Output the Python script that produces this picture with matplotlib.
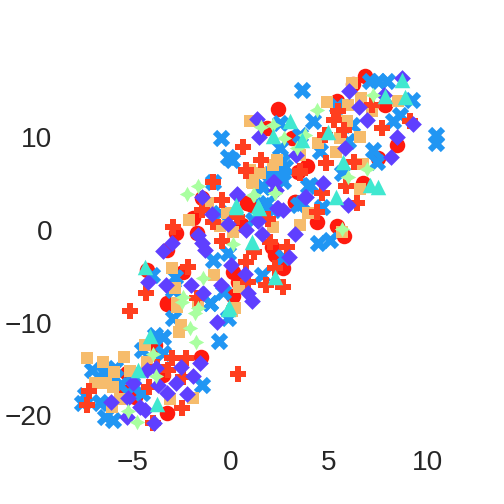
import matplotlib
matplotlib.use("Agg")
import matplotlib.pyplot as plt

plt.rcParams["font.family"] = ["Liberation Sans", "DejaVu Sans"]

# points, one pair of lists per marker group
circle_x = [-3.28,-1.55,-3.25,-5.32,-3.87,-5.4,-3.45,-4.9,-2.82,-1.75,-3.28,-2.46,-4.3,0.8,3.27,0.55,-1.92,0.09,0.09,2.67,2.25,-3.28,0.38,2.08,-1.5,2.42,3.86,3.44,6.84,6.21,5.42,7.86,8.45,7.52,6.75,3.27,0.8,1.06,3.1,1.82,4.4,5.39,5.76]
circle_y = [-7.98,-13.74,-19.79,-15.47,-12.41,-17.45,-15.65,-18.0,-0.3,-0.37,-2.17,-4.51,-4.33,2.87,3.05,0.53,1.25,-4.51,-7.14,-4.15,-2.71,-7.93,-5.59,-1.81,3.41,13.01,6.89,6.28,16.54,15.75,13.84,13.48,9.16,7.72,5.02,3.04,2.86,2.68,9.88,10.96,0.89,0.42,-0.66]

cross_x = [-7.1,-6.51,-5.92,-7.62,-6.68,-6.43,-6.0,-4.55,-3.45,-2.94,-1.07,-0.59,-0.14,-1.46,-3.45,-4.55,-5.66,-3.87,-0.93,-0.13,1.57,2.67,2.5,3.61,1.65,1.57,2.16,-2.85,-4.05,-0.56,1.14,3.95,-1.07,-0.39,2.67,-2.94,3.64,4.2,2.5,3.52,2.5,0.04,5.99,7.26,7.43,8.62,8.28,9.22,7.09,7.94,7.52,10.44,10.44,2.76,2.5,4.03,1.65,3.44,4.63,5.65,4.54,6.16,5.39,5.05,4.46,-0.5,-0.15,-0.9,2.58,2.0,1.82,-6.26,-5.92,-5.07,-6.69,-7.45,-5.0]
cross_y = [-15.11,-15.29,-14.93,-18.71,-18.53,-20.15,-20.51,-12.95,-11.51,-9.53,-7.91,-11.94,-9.53,-16.73,-13.31,-17.63,-16.73,-11.33,-3.25,-2.53,4.67,5.21,6.29,2.87,2.69,-4.87,2.15,-5.05,-4.87,1.79,1.07,4.67,-7.93,-6.67,-2.89,-6.49,15.1,11.68,11.5,10.24,8.8,7.54,9.52,8.62,7.36,12.4,11.68,14.02,16.0,16.0,16.0,10.2,9.4,6.82,5.74,4.84,4.66,2.68,2.5,6.1,8.44,11.32,13.3,-1.09,-1.45,9.9,7.8,5.1,7.37,6.0,2.87,-15.46,-16.0,-15.64,-18.7,-17.8,-16.9]

square_x = [-7.33,-6.51,-5.44,-5.95,-5.15,-6.95,-6.39,-6.03,-2.74,-2.57,-2.63,-4.4,-4.27,-5.66,-6.09,-3.11,-1.92,-1.67,0.07,-2.12,-1.15,-0.22,1.09,1.48,3.52,3.95,2.16,0.09,-0.56,-3.03,-2.85,-0.85,0.43,-2.74,0.2,0.97,4.88,5.99,6.63,7.18,5.9,6.58,4.46,5.56,5.36,6.75,2.33,2.13,1.48,1.11,0.97,3.52,6.16,8.54,6.58,5.65]
square_y = [-13.85,-14.28,-13.74,-15.36,-15.25,-16.55,-16.55,-16.98,-8.27,-10.25,-11.04,-12.45,-14.25,-18.28,-19.07,-18.28,-18.17,-7.73,-8.74,1.07,2.87,1.79,5.14,6.11,0.53,1.79,0.35,-0.19,0.42,-4.15,-6.31,-4.87,-6.13,-7.93,-8.47,11.68,13.73,13.48,14.2,12.76,11.68,9.99,9.34,9.88,8.37,7.11,7.54,7.0,6.1,5.09,6.46,8.08,15.82,13.84,4.37,-0.19]

plus_x = [-5.15,0.34,-7.22,-7.33,-3.0,-2.29,-3.2,-2.43,-3.79,-4.16,-2.52,-3.96,-0.93,-2.94,-0.44,-1.49,-0.9,-2.18,0.77,-0.44,1.99,2.87,1.17,2.25,1.77,2.67,-4.33,0.89,-1.75,0.29,0.77,3.52,1.9,0.6,1.51,0.77,3.52,4.85,6.27,7.69,5.76,5.48,5.25,4.8,4.63,5.87,6.44,7.18,9.13,4.37]
plus_y = [-8.74,-15.54,-17.34,-18.89,-13.85,-13.85,-15.11,-15.83,-14.75,-16.98,-19.25,-20.87,5.1,0.35,3.16,2.15,0.89,-3.97,-3.43,-1.16,-1.27,-1.88,-2.35,-4.15,-5.95,-6.2,-6.85,-5.59,-7.39,1.43,6.29,6.29,1.15,8.91,7.47,6.46,6.17,7.18,7.36,10.96,10.71,12.76,11.86,10.24,3.94,4.73,2.86,13.48,11.68,1.9]

diamond_x = [-0.73,-3.82,-4.3,-4.98,-2.55,-1.58,-1.95,-3.74,-2.82,-3.28,-2.26,-5.23,-6.14,-4.64,-5.32,-3.93,-4.39,-1.46,0.29,-0.99,-0.17,0.77,1.4,1.57,2.21,2.36,2.67,3.27,3.78,-1.7,-1.5,-1.33,-2.99,-3.45,0.0,0.72,-4.22,-3.33,-2.04,-0.51,-1.41,0.89,1.06,2.98,1.31,1.45,3.3,6.02,6.53,6.95,8.74,9.27,8.45,8.16,5.82,4.68,3.83,2.16,2.3,5.95,0.29,2.42,7.8]
diamond_y = [-9.89,-14.86,-15.11,-16.55,-14.75,-14.39,-15.72,-16.73,-16.55,-17.63,-17.7,-18.17,-18.53,-19.07,-20.15,-20.87,-19.43,3.59,3.77,1.68,0.64,0.0,0.96,-0.44,5.14,2.33,2.15,-0.48,3.59,-0.55,-1.45,-2.17,-1.45,-2.28,-3.79,-4.76,-5.59,-5.95,-5.95,-5.95,-6.85,-6.85,-7.68,-2.89,11.93,9.99,8.08,14.99,13.23,11.86,16.36,11.39,9.99,7.9,8.8,5.09,3.58,5.2,4.3,2.68,3.83,2.32,14.56]

star_x = [-1.83,-2.09,-1.78,-3.96,-3.84,-5.23,-4.81,-2.5,-2.26,-1.66,1.19,2.25,0.12,-1.44,-2.46,-1.66,4.37,1.51,2.16,2.7,3.78,3.35,5.98,6.95,7.26,2.25,1.14,5.65]
star_y = [-8.92,-10.61,-12.05,-13.38,-15.76,-19.5,-20.76,-7.73,3.88,4.67,3.77,3.95,-1.52,-5.23,-7.21,-8.47,12.94,11.03,11.32,9.88,10.24,8.8,5.67,6.53,14.56,3.94,3.76,0.06]

triangle_x = [-4.13,-4.72,-3.79,-0.13,0.24,1.43,1.06,2.25,-4.39,-0.08,3.01,2.16,3.6,4.97,5.73,7.86,8.7,8.88,7.09,7.52,5.36,0.26,1.4]
triangle_y = [-11.44,-15.11,-18.78,-8.56,2.44,2.33,-1.27,-5.12,-3.97,-8.29,11.68,10.06,9.7,10.49,7.36,14.38,16.18,14.31,4.84,4.66,3.58,2.68,2.61]

xticks = [-5, 0, 5, 10]
yticks = [-20, -10, 0, 10]

fig = plt.figure(figsize=(7, 7), dpi=72)
ax = fig.add_axes([60/504, 64/504, 410/504, 380/504])

ax.scatter(circle_x, circle_y, marker="o", s=240, c="#ff1a0e", linewidths=0)
ax.scatter(cross_x, cross_y, marker="X", s=300, c="#2196f3", linewidths=0)
ax.scatter(square_x, square_y, marker="s", s=135, c="#f6bc6c", linewidths=0)
ax.scatter(plus_x, plus_y, marker="P", s=280, c="#ff3f1f", linewidths=0)
ax.scatter(diamond_x, diamond_y, marker="D", s=140, c="#5f3fff", linewidths=0)
ax.scatter(star_x, star_y, marker=(4, 1, 0), s=240, c="#a9ffa0", linewidths=0)
ax.scatter(triangle_x, triangle_y, marker="^", s=240, c="#40e8d0", linewidths=0)

ax.set_xlim(-8.72, 12.19)
ax.set_ylim(-22.65, 18.3)
ax.set_xticks(xticks)
ax.set_yticks(yticks)
ax.tick_params(axis="x", length=0, labelsize=28, pad=10, labelcolor="#262626")
ax.tick_params(axis="y", length=0, labelsize=28, pad=8, labelcolor="#262626")
for s in ax.spines.values():
    s.set_visible(False)

fig.savefig("out.png", dpi=72)
